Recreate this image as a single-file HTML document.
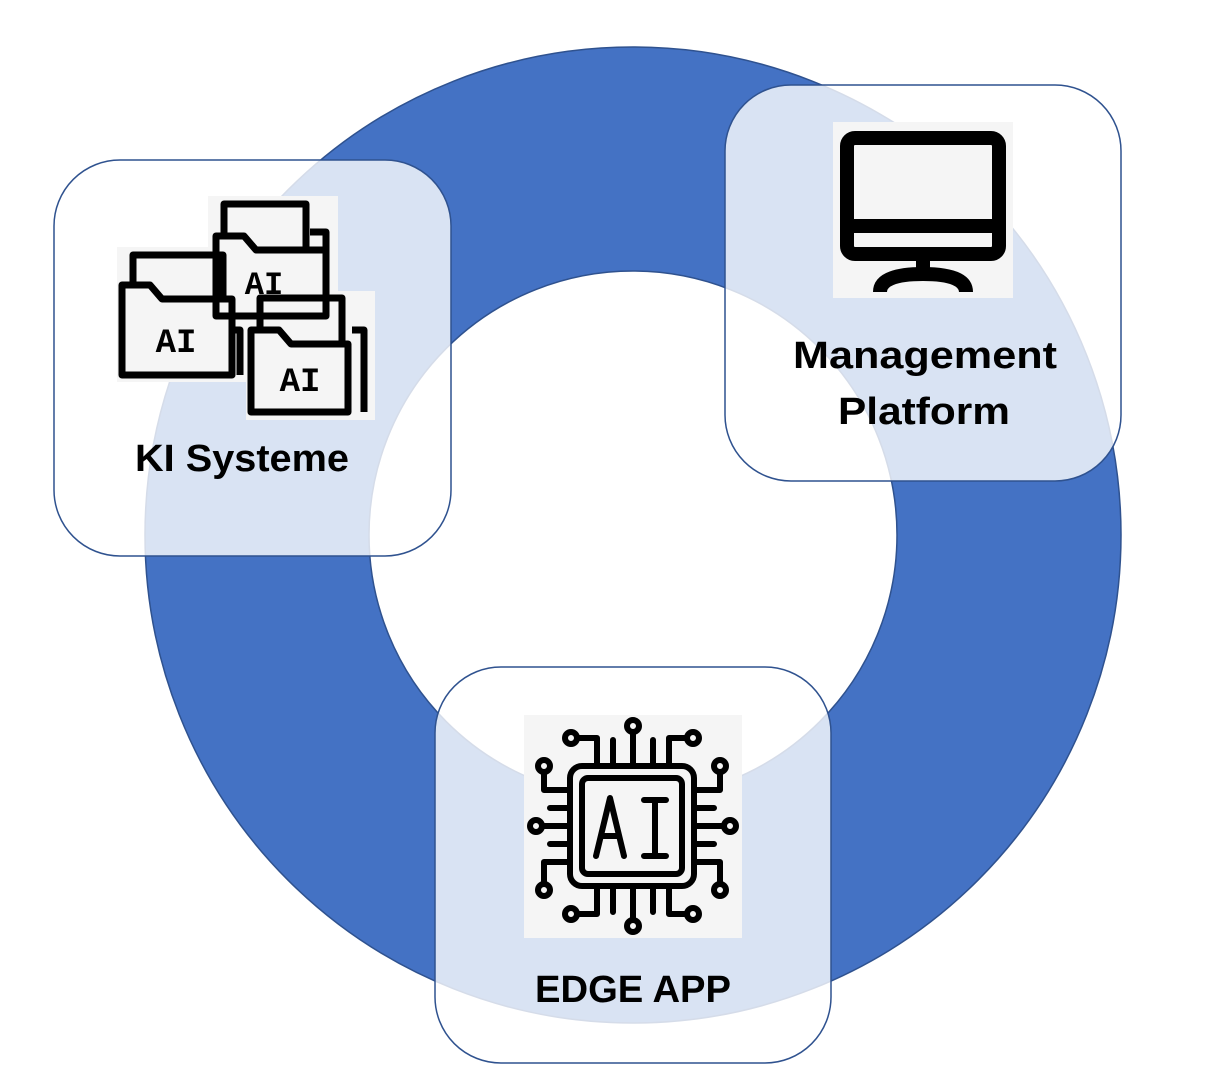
<!DOCTYPE html>
<html><head><meta charset="utf-8"><style>
html,body{margin:0;padding:0;background:#fff;}
svg{display:block}
text{font-family:"Liberation Sans",sans-serif;font-weight:bold;fill:#000}
text.mono{font-family:"Liberation Mono",monospace}
</style></head><body>
<svg width="1221" height="1071" viewBox="0 0 1221 1071" xmlns="http://www.w3.org/2000/svg">
<path fill-rule="evenodd" fill="#4472C4" stroke="#2F528F" stroke-width="1.5"
 d="M145,535 a488,488 0 1,0 976,0 a488,488 0 1,0 -976,0 Z M369,535 a264,264 0 1,0 528,0 a264,264 0 1,0 -528,0 Z"/>
<g fill="rgba(255,255,255,0.8)" stroke="#2F528F" stroke-width="1.5">
<rect x="54" y="160" width="397" height="396" rx="66"/>
<rect x="725" y="85" width="396" height="396" rx="66"/>
<rect x="435" y="667" width="396" height="396" rx="66"/>
</g>
<g>
<rect x="117" y="247" width="130" height="135" fill="#f5f5f5"/>
<rect x="208" y="196" width="130" height="130" fill="#f5f5f5"/>
<rect x="246" y="291" width="129" height="129" fill="#f5f5f5"/>
<g fill="none" stroke="#000" stroke-width="7" stroke-linejoin="round">
<path d="M122,285 h28 l12,14 h70 v76 h-110 Z"/><path d="M133,285 v-30 h90 v44"/><path d="M232,330 h8 v45"/>
<path d="M216,236 h28 l12,14 h70 v66 h-110 Z"/><path d="M224,236 v-32 h82 v46"/><path d="M310,232 h16 v50"/>
<path d="M251,330 h28 l12,14 h57 v68 h-97 Z"/><path d="M260,330 v-32 h82 v46"/><path d="M352,330 h12 v82"/>
</g>
<text class="mono" x="176" y="352" font-size="34" text-anchor="middle">AI</text>
<text class="mono" x="264" y="294" font-size="32" text-anchor="middle">AI</text>
<text class="mono" x="300" y="391" font-size="34" text-anchor="middle">AI</text>
</g>
<rect x="833" y="122" width="180" height="176" fill="#f5f5f5"/>
<g fill="none" stroke="#000" stroke-width="14" stroke-linejoin="round">
<rect x="847" y="138" width="152" height="116" rx="8"/>
<line x1="847" y1="226" x2="999" y2="226"/>
<line x1="923" y1="254" x2="923" y2="274"/>
<path d="M880,292 q0,-18 43,-18 q43,0 43,18"/>
</g>
<rect x="524" y="715" width="218" height="223" fill="#f5f5f5"/>
<g fill="none" stroke="#000" stroke-width="6" stroke-linecap="round" stroke-linejoin="round">
<rect x="570" y="766" width="124" height="120" rx="12"/>
<rect x="582" y="778" width="100" height="96" rx="6"/>
<path d="M597,766 v-28 h-20 M613,766 v-26 M633,766 v-34 M653,766 v-26 M669,766 v-28 h18"/>
<path d="M597,886 v28 h-20 M613,886 v26 M633,886 v34 M653,886 v26 M669,886 v28 h18"/>
<path d="M570,790 h-26 v-18 M570,808 h-20 M570,826 h-30 M570,844 h-20 M570,862 h-26 v22"/>
<path d="M694,790 h26 v-18 M694,808 h20 M694,826 h30 M694,844 h20 M694,862 h26 v22"/>
<g fill="#f5f5f5">
<circle cx="571" cy="738" r="6"/><circle cx="633" cy="726" r="6"/><circle cx="693" cy="738" r="6"/>
<circle cx="571" cy="914" r="6"/><circle cx="633" cy="926" r="6"/><circle cx="693" cy="914" r="6"/>
<circle cx="544" cy="766" r="6"/><circle cx="536" cy="826" r="6"/><circle cx="544" cy="890" r="6"/>
<circle cx="720" cy="766" r="6"/><circle cx="730" cy="826" r="6"/><circle cx="720" cy="890" r="6"/>
</g>
<path d="M596,856 l14,-58 l14,58 M601,836 h18 M644,800 h22 M655,800 v56 M644,856 h22"/>
</g>
<text x="135" y="471" font-size="38" textLength="214" lengthAdjust="spacingAndGlyphs">KI Systeme</text>
<text x="793" y="368" font-size="38" textLength="264" lengthAdjust="spacingAndGlyphs">Management</text>
<text x="838" y="424" font-size="38" textLength="172" lengthAdjust="spacingAndGlyphs">Platform</text>
<text x="535" y="1002" font-size="38" textLength="196" lengthAdjust="spacingAndGlyphs">EDGE APP</text>
</svg>
</body></html>
